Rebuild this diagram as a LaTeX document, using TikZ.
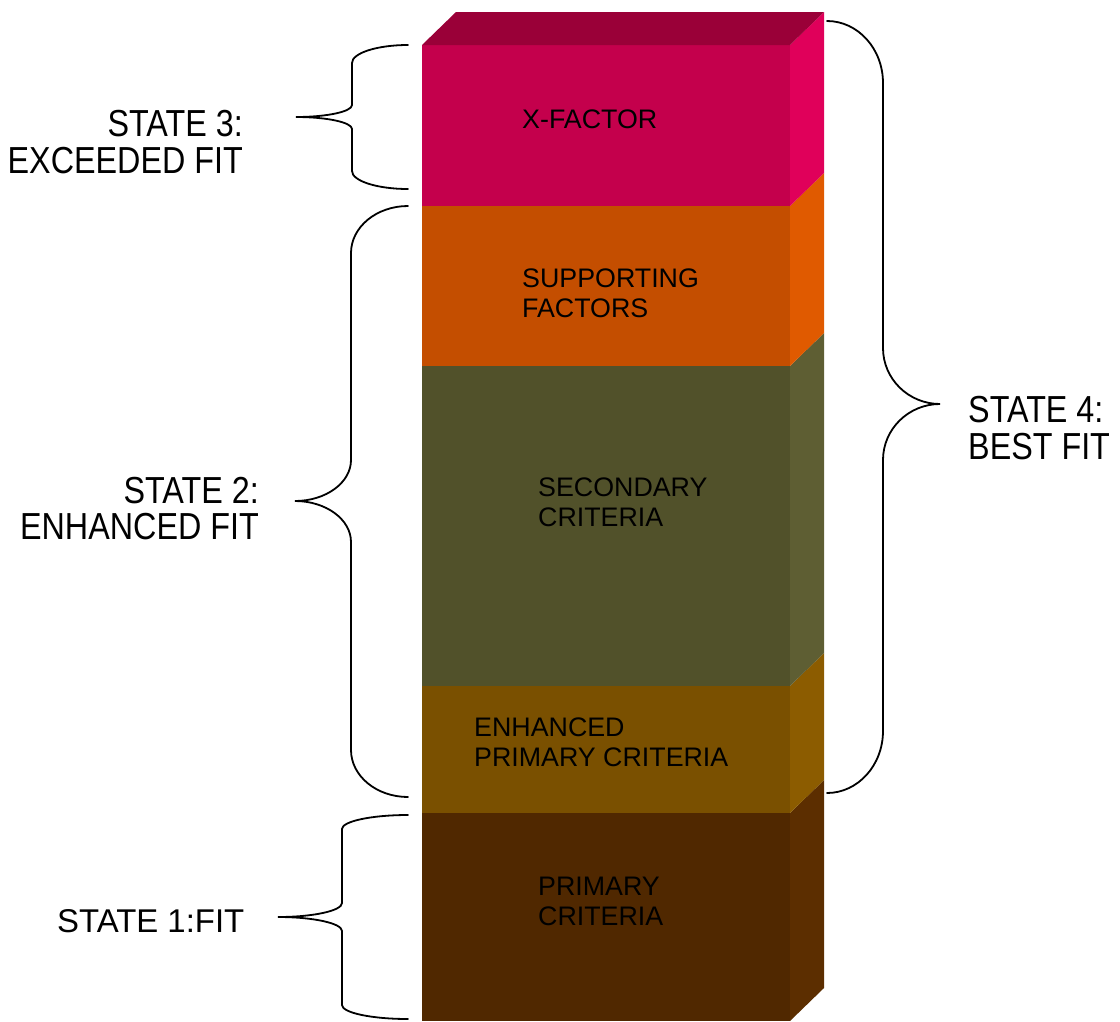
\documentclass[tikz,border=0pt]{standalone}
\usepackage{fontspec}
\setmainfont{Liberation Sans}
\usetikzlibrary{calc}

% layer colours: front face / side face
\definecolor{xfFront}{RGB}{196,0,76}
\definecolor{xfSide}{RGB}{224,0,90}
\definecolor{xfTop}{RGB}{154,0,56}
\definecolor{sfFront}{RGB}{196,78,0}
\definecolor{sfSide}{RGB}{224,90,0}
\definecolor{scFront}{RGB}{81,81,42}
\definecolor{scSide}{RGB}{94,94,51}
\definecolor{epFront}{RGB}{122,80,0}
\definecolor{epSide}{RGB}{140,92,0}
\definecolor{pcFront}{RGB}{80,40,0}
\definecolor{pcSide}{RGB}{92,46,0}

% one slab of the column: #1 top y, #2 bottom y, #3 front colour, #4 side colour
\newcommand{\slab}[4]{%
  \fill[#3] (422,#1) rectangle (790,#2);
  \fill[#4] (790,#1) -- (824,{#1-33}) -- (824,{#2-33}) -- (790,#2) -- cycle;
}

% curly brace: #1 end x, #2 stem x, #3 tip x, #4 top y, #5 tip y, #6 bottom y,
% #7 corner height, #8 tip curve height
\newcommand{\stagebrace}[8]{%
  \draw[bracestyle] (#1,#4)
    .. controls ({#1+0.552*(#2-#1)},#4) and (#2,{#4+0.448*#7}) .. (#2,{#4+#7})
    -- (#2,{#5-#8})
    .. controls (#2,{#5-0.448*#8}) and ({#3+0.552*(#2-#3)},#5) .. (#3,#5)
    .. controls ({#3+0.552*(#2-#3)},#5) and (#2,{#5+0.448*#8}) .. (#2,{#5+#8})
    -- (#2,{#6-#7})
    .. controls (#2,{#6-0.448*#7}) and ({#1+0.552*(#2-#1)},#6) .. (#1,#6);
}

\tikzset{
  bracestyle/.style={black, line width=1.8pt, line cap=round},
  inlabel/.style={inner sep=0pt, anchor=base west, align=left,
    font=\fontsize{26.8}{30}\selectfont},
  outlabel/.style={inner sep=0pt, yscale=1.165,
    font=\fontsize{32.3}{31.3}\selectfont},
}

\begin{document}
\begin{tikzpicture}[x=1pt, y=-1pt]
\useasboundingbox (0,0) rectangle (1120,1021);

% column of slabs, bottom to top
\slab{813}{1021}{pcFront}{pcSide}
\slab{686}{813}{epFront}{epSide}
\slab{366}{686}{scFront}{scSide}
\slab{206}{366}{sfFront}{sfSide}
\slab{45}{206}{xfFront}{xfSide}
\fill[xfTop] (422,45) -- (456,12) -- (824,12) -- (790,45) -- cycle;

% slab captions (multi-line nodes are anchored on their last baseline)
\node[inlabel] (xf) at (522,128) {X-FACTOR};
\node[inlabel] (sf) at (522,317) {SUPPORTING\\FACTORS};
\node[inlabel] (sc) at (538,526.5) {SECONDARY\\CRITERIA};
\node[inlabel] (ep) at (474,766) {ENHANCED\\PRIMARY CRITERIA};
\node[inlabel] (pc) at (538,925.5) {PRIMARY\\CRITERIA};

% braces
\stagebrace{408}{352}{296}{45}{117}{189}{18}{12}
\stagebrace{408}{351}{295}{206}{501}{797}{47}{41}
\stagebrace{408}{342}{278}{815}{917}{1019}{14}{14}
\stagebrace{827}{883}{940}{21}{404}{793}{62}{56}

% state labels
\node[outlabel, anchor=base east, align=right] (s3) at (243,173) {STATE 3:\\EXCEEDED FIT};
\node[outlabel, anchor=base east, align=right] (s2) at (259,539.5) {STATE 2:\\ENHANCED FIT};
\node[inner sep=0pt, anchor=base west, font=\fontsize{32.9}{36}\selectfont] (s1) at (57,932.5) {STATE 1:FIT};
\node[outlabel, anchor=base west, align=left] (s4) at (968,459) {STATE 4:\\BEST FIT};
\end{tikzpicture}
\end{document}
